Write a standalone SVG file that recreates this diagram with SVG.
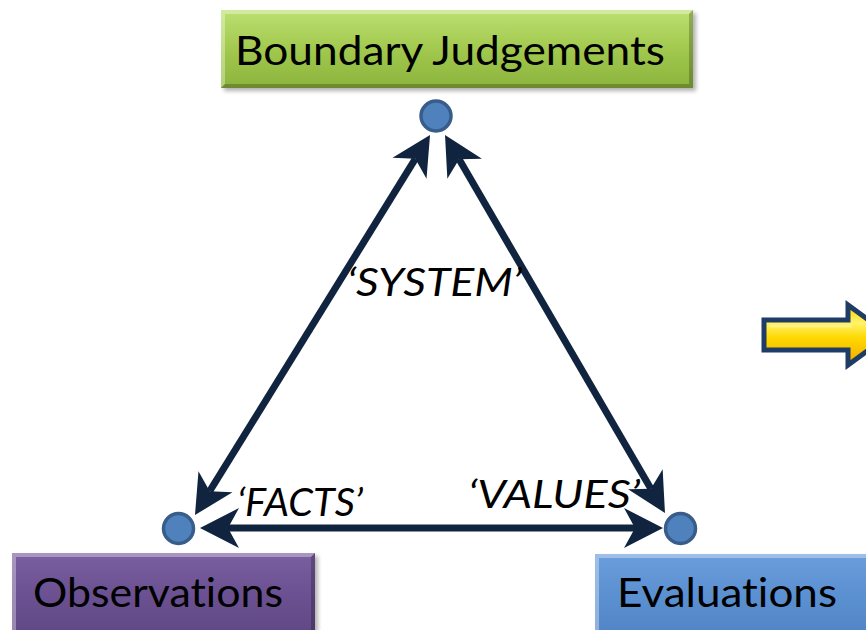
<svg xmlns="http://www.w3.org/2000/svg" width="866" height="630" viewBox="0 0 866 630">
<style>
.lbl{font-family:Lato,"Open Sans","Liberation Sans",sans-serif;fill:#000;font-variant-ligatures:none;font-feature-settings:"liga" 0,"dlig" 0}
.box{font-size:41px}
.it{font-size:39px;font-style:italic}
.conn{stroke:#10243f;stroke-width:7;fill:none;marker-start:url(#ah);marker-end:url(#ah)}
.dot{fill:#4f81bd;stroke:#385d8a;stroke-width:3.5}
.hl{fill:#fff;opacity:0.35}
.dk{fill:#000;opacity:0.22}
</style>
<defs>
<marker id="ah" markerUnits="userSpaceOnUse" viewBox="-15 -22 45 44" markerWidth="45" markerHeight="44" refX="0" refY="0" orient="auto-start-reverse">
<path d="M28,0 L-11,-20 L0,0 L-11,20 Z" fill="#10243f"/>
</marker>
<linearGradient id="gG" x1="0" y1="0" x2="0" y2="1">
<stop offset="0" stop-color="#bddf72"/><stop offset="0.5" stop-color="#a2c94e"/><stop offset="1" stop-color="#8cb33c"/>
</linearGradient>
<linearGradient id="gP" x1="0" y1="0" x2="0" y2="1">
<stop offset="0" stop-color="#7a5fa0"/><stop offset="0.5" stop-color="#6a5090"/><stop offset="1" stop-color="#5e4682"/>
</linearGradient>
<linearGradient id="gB" x1="0" y1="0" x2="0" y2="1">
<stop offset="0" stop-color="#6a9ddb"/><stop offset="0.5" stop-color="#5a8fd0"/><stop offset="1" stop-color="#4f82c2"/>
</linearGradient>
<linearGradient id="gY" x1="0" y1="0" x2="0" y2="1">
<stop offset="0" stop-color="#ffd000"/><stop offset="0.3" stop-color="#fff36a"/><stop offset="0.55" stop-color="#ffd800"/><stop offset="1" stop-color="#f0a800"/>
</linearGradient>
<filter id="sh" x="-5%" y="-20%" width="110%" height="140%">
<feGaussianBlur stdDeviation="2"/>
</filter>
</defs>

<g id="node-boundary">
<rect x="224" y="13" width="472" height="78" fill="#000" opacity="0.3" filter="url(#sh)"/>
<rect x="221" y="10" width="472" height="78" fill="url(#gG)"/>
<polygon class="hl" points="221,10 693,10 689,14 225,14"/>
<polygon class="hl" points="221,10 225,14 225,84 221,88"/>
<polygon class="dk" points="221,88 693,88 689,84 225,84"/>
<polygon class="dk" points="693,10 693,88 689,84 689,14"/>
<text class="lbl box" x="235" y="65" font-size="46" textLength="430" lengthAdjust="spacingAndGlyphs">Boundary Judgements</text>
</g>

<g id="node-observations">
<rect x="15" y="556" width="303" height="90" fill="#000" opacity="0.3" filter="url(#sh)"/>
<rect x="12" y="553" width="303" height="90" fill="url(#gP)"/>
<polygon class="hl" points="12,553 315,553 311,557 16,557"/>
<polygon class="hl" points="12,553 16,557 16,643 12,643"/>
<polygon class="dk" points="315,553 315,643 311,643 311,557"/>
<text class="lbl box" x="33" y="607" textLength="250" lengthAdjust="spacingAndGlyphs">Observations</text>
</g>

<g id="node-evaluations">
<rect x="598" y="557" width="290" height="90" fill="#000" opacity="0.3" filter="url(#sh)"/>
<rect x="595" y="554" width="290" height="90" fill="url(#gB)"/>
<polygon class="hl" points="595,554 885,554 881,558 599,558"/>
<polygon class="hl" points="595,554 599,558 599,644 595,644"/>
<text class="lbl box" x="617" y="607" textLength="220" lengthAdjust="spacingAndGlyphs">Evaluations</text>
</g>

<g id="connectors">
<line class="conn" x1="209.7" y1="491.2" x2="415.3" y2="158.8"/>
<line class="conn" x1="459.1" y1="159.2" x2="650.9" y2="488.8"/>
<line class="conn" x1="228" y1="528" x2="635" y2="528"/>
</g>

<g id="dots">
<circle class="dot" cx="436" cy="116" r="15"/>
<circle class="dot" cx="178.5" cy="528.5" r="15"/>
<circle class="dot" cx="680.5" cy="528.5" r="15"/>
</g>

<g id="labels">
<text class="lbl it" x="347" y="296" textLength="175" lengthAdjust="spacingAndGlyphs">‘SYSTEM’</text>
<text class="lbl it" x="237" y="516" textLength="126" lengthAdjust="spacingAndGlyphs">‘FACTS’</text>
<text class="lbl it" x="468" y="508" textLength="172" lengthAdjust="spacingAndGlyphs">‘VALUES’</text>
</g>

<g id="yellow-arrow">
<path d="M764,320 L848,320 L848,305 L889,335 L848,365 L848,350 L764,350 Z" fill="url(#gY)" stroke="#1f3c64" stroke-width="5" stroke-linejoin="miter"/>
<path d="M770,326 L852,326" stroke="#fff6a0" stroke-width="3" opacity="0.6"/>
</g>
</svg>
